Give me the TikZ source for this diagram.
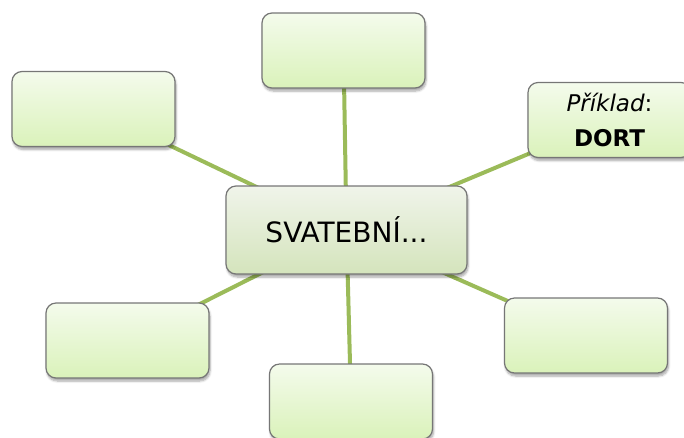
\documentclass[tikz,border=0pt]{standalone}
\usepackage{fontspec}
\setmainfont{DejaVu Sans}
\usetikzlibrary{backgrounds,shadows.blur}
\definecolor{olivelink}{RGB}{155,187,89}
\definecolor{boxedge}{RGB}{118,118,118}
\definecolor{leaftop}{RGB}{244,251,236}
\definecolor{leafbottom}{RGB}{218,242,186}
\definecolor{hubtop}{RGB}{240,244,234}
\definecolor{hubbottom}{RGB}{212,228,188}
\begin{document}
\begin{tikzpicture}[x=1pt,y=-1pt,
    leafbox/.style={draw=boxedge, line width=1.2pt, rounded corners=10pt,
      top color=leaftop, bottom color=leafbottom,
      minimum width=163pt, minimum height=75pt, inner sep=0pt,
      blur shadow={shadow xshift=1pt, shadow yshift=-3pt, shadow blur steps=6, shadow opacity=35}},
    hubbox/.style={leafbox, top color=hubtop, bottom color=hubbottom,
      minimum width=241pt, minimum height=88pt, font=\fontsize{28}{30}\selectfont},
    spoke/.style={draw=olivelink, line width=4pt}]
	\useasboundingbox (0,0) rectangle (684,437);
	\node [hubbox] (hub) at (346.5,230) {SVATEBNÍ...};
	\node [leafbox] (top) at (343.5,50.5) {};
	\node [leafbox] (topleft) at (93.5,109) {};
	\node [leafbox, align=center, font=\fontsize{23}{35}\selectfont] (topright) at (609.5,120)
		{\textit{Příklad}:\\ \textbf{DORT}};
	\node [leafbox] (botleft) at (127.5,340.5) {};
	\node [leafbox] (botright) at (586,335.5) {};
	\node [leafbox] (bottom) at (351,401.5) {};
	\begin{scope}[on background layer]
		\foreach \leaf in {top,topleft,topright,botleft,botright,bottom}
			\draw [spoke] (hub.center) -- (\leaf.center);
	\end{scope}
\end{tikzpicture}
\end{document}
